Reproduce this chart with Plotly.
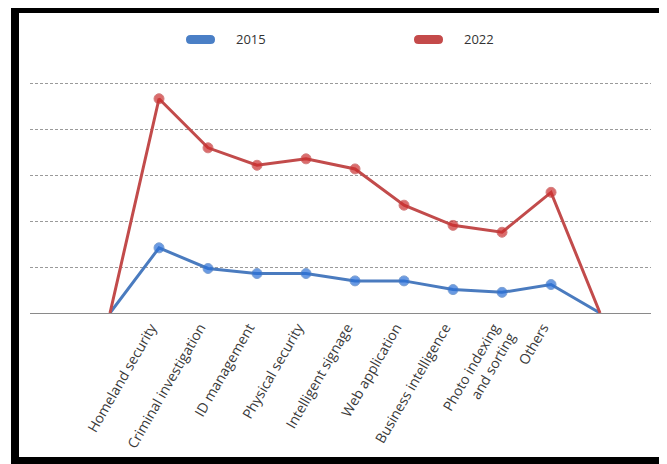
import plotly.graph_objects as go

categories = ["", "Homeland security", "Criminal investigation", "ID management",
              "Physical security", "Intelligent signage", "Web application",
              "Business intelligence", "Photo indexing<br>and sorting", "Others", ""]
values_2015 = [0, 14.2, 9.7, 8.6, 8.6, 7.0, 7.0, 5.1, 4.5, 6.2, 0]
values_2022 = [0, 46.7, 36.0, 32.2, 33.6, 31.4, 23.5, 19.1, 17.6, 26.3, 0]
series_names = ["2015", "2022"]

# page body has an 8px margin; work in screen coordinates and shift
OFF = 8
W, H = 667 - OFF, 464 - OFF
L, R, T, B = 30 - OFF, 651 - OFF, 79 - OFF, 313 - OFF

def px(x):
    return (x - OFF - L) / (R - L)

def py(y):
    return (B - (y - OFF)) / (B - T)

xs = list(range(len(categories)))
sizes = [0] + [10] * (len(categories) - 2) + [0]

blue_line, blue_mark = "#4a7bbf", "#2a70d8"
red_line, red_mark = "#c24b4b", "#cc2e2e"

fig = go.Figure()
fig.add_trace(go.Scatter(x=xs, y=values_2015, mode="lines+markers", name=series_names[0],
                         line=dict(color=blue_line, width=3),
                         marker=dict(color=blue_mark, size=sizes),
                         cliponaxis=False, showlegend=False))
fig.add_trace(go.Scatter(x=xs, y=values_2022, mode="lines+markers", name=series_names[1],
                         line=dict(color=red_line, width=3),
                         marker=dict(color=red_mark, size=sizes),
                         cliponaxis=False, showlegend=False))

shapes = []
# black frame (left, top, bottom) in screen pixels
for (x0, y0, x1, y1) in [(11, 0, 19, 470), (11, 5, 680, 13), (11, 457, 680, 470)]:
    shapes.append(dict(type="rect", xref="paper", yref="paper",
                       x0=px(x0), x1=px(x1), y0=py(y0), y1=py(y1),
                       fillcolor="black", line=dict(width=0), layer="above"))

def pill(x0, x1, y0, y1, color):
    r = (y1 - y0) / 2
    pts = [
        f"M{px(x0 + r)},{py(y0)}",
        f"L{px(x1 - r)},{py(y0)}",
        f"Q{px(x1)},{py(y0)} {px(x1)},{py((y0 + y1) / 2)}",
        f"Q{px(x1)},{py(y1)} {px(x1 - r)},{py(y1)}",
        f"L{px(x0 + r)},{py(y1)}",
        f"Q{px(x0)},{py(y1)} {px(x0)},{py((y0 + y1) / 2)}",
        f"Q{px(x0)},{py(y0)} {px(x0 + r)},{py(y0)}",
        "Z",
    ]
    return dict(type="path", xref="paper", yref="paper", path=" ".join(pts),
                fillcolor=color, line=dict(width=0), layer="above")

shapes.append(pill(186, 215, 35, 44, "#4a7fc6"))
shapes.append(pill(414, 443, 35, 44, "#c44a4a"))

annotations = [
    dict(text=series_names[0], xref="paper", yref="paper", x=px(234), y=py(39.5),
         xanchor="left", yanchor="middle", showarrow=False,
         font=dict(family="Open Sans", size=13, color="#333333")),
    dict(text=series_names[1], xref="paper", yref="paper", x=px(462), y=py(39.5),
         xanchor="left", yanchor="middle", showarrow=False,
         font=dict(family="Open Sans", size=13, color="#333333")),
]

fig.update_layout(
    width=W, height=H,
    margin=dict(l=L, r=W - R, t=T, b=H - B, pad=0),
    paper_bgcolor="white", plot_bgcolor="white",
    shapes=shapes, annotations=annotations,
    showlegend=False,
    font=dict(family="Open Sans", size=13, color="#3a3a3a"),
)
fig.update_xaxes(range=[-1.633, 11.04], tickvals=xs[1:-1], ticktext=categories[1:-1],
                 tickangle=-60, showgrid=False, zeroline=False,
                 showline=True, linecolor="#8a8a8a", linewidth=1, ticks="",
                 ticklabelshift=-8,
                 tickfont=dict(family="Open Sans", size=14, color="#3a3a3a"))
fig.update_yaxes(range=[0, 51], tickvals=[10, 20, 30, 40, 50], showticklabels=False,
                 showgrid=True, gridcolor="#9a9a9a", gridwidth=1, griddash="3px,2px",
                 zeroline=False, showline=False, ticks="")

fig.write_html("out.html")
